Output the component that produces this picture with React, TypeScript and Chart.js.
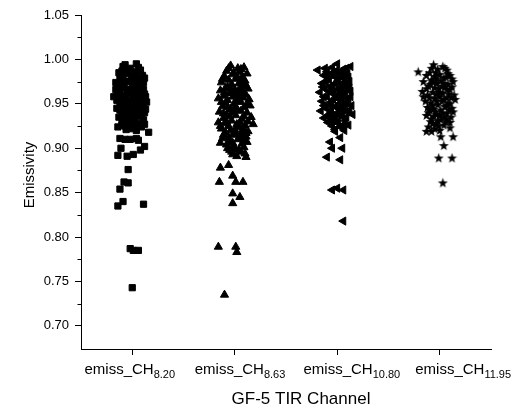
import { useEffect, useRef } from 'react';
import { Chart, registerables } from 'chart.js';

Chart.register(...registerables);

// ---------- data ----------
const labelPrefix = 'emiss_CH';
const channelLabels = ['8.20', '8.63', '10.80', '11.95'];
const categoryPositions = [1, 2, 3, 4];
const yTicks = [0.7, 0.75, 0.8, 0.85, 0.9, 0.95, 1.0, 1.05];
const yMinorTicks = [0.725, 0.775, 0.825, 0.875, 0.925, 0.975, 1.025];
const xTitle = 'GF-5 TIR Channel';
const yTitle = 'Emissivity';

// [jitter offset from category, emissivity]
const emissCH820: [number, number][] = [
  [-0.07, 0.994], [0.04, 0.995], [-0.02, 0.99], [0.08, 0.988], [-0.13, 0.985], [-0.04, 0.984], [0.02, 0.986],
  [0.1, 0.982], [-0.09, 0.98], [0.05, 0.979], [-0.01, 0.977], [-0.16, 0.974], [0.11, 0.974], [-0.06, 0.975],
  [0.07, 0.972], [0.0, 0.97], [-0.11, 0.968], [0.03, 0.967], [0.09, 0.965], [-0.05, 0.964], [-0.14, 0.962],
  [0.12, 0.961], [0.01, 0.96], [-0.18, 0.958], [0.13, 0.958], [-0.08, 0.957], [0.06, 0.955], [-0.02, 0.953],
  [-0.12, 0.951], [0.1, 0.95], [0.03, 0.948], [-0.06, 0.947], [-0.15, 0.945], [0.08, 0.944], [0.0, 0.943],
  [-0.1, 0.941], [0.12, 0.94], [-0.03, 0.938], [0.05, 0.936], [-0.13, 0.935], [-0.07, 0.933], [0.11, 0.932],
  [0.02, 0.931], [-0.04, 0.929], [0.07, 0.928], [-0.1, 0.926], [0.0, 0.925], [-0.14, 0.924], [0.09, 0.924],
  [-0.02, 0.922], [0.16, 0.918], [-0.06, 0.921], [0.04, 0.92],
  [-0.09, 0.992], [0.01, 0.981], [-0.03, 0.962], [0.05, 0.963], [-0.08, 0.969], [0.07, 0.978], [-0.05, 0.952],
  [0.02, 0.941], [-0.11, 0.956], [0.09, 0.953], [-0.01, 0.934], [0.04, 0.975], [-0.12, 0.978], [0.06, 0.946],
  [-0.07, 0.939],
  [-0.1, 0.987], [0.06, 0.991], [-0.05, 0.988], [0.12, 0.979], [-0.14, 0.971], [0.03, 0.983], [-0.08, 0.974],
  [0.09, 0.97], [-0.03, 0.966], [0.11, 0.966], [-0.12, 0.963], [0.04, 0.958], [-0.06, 0.959], [0.08, 0.961],
  [-0.15, 0.954], [0.0, 0.95], [0.11, 0.946], [-0.09, 0.948], [0.05, 0.941], [-0.12, 0.943], [0.09, 0.937],
  [-0.05, 0.935], [0.01, 0.938], [-0.1, 0.93], [0.05, 0.927], [0.12, 0.927], [-0.07, 0.925], [-0.01, 0.928],
  [0.13, 0.944], [-0.16, 0.966], [0.14, 0.952], [-0.02, 0.945], [0.07, 0.965], [-0.11, 0.984], [0.01, 0.956],
  [-0.12, 0.911], [-0.07, 0.91], [-0.02, 0.91], [0.04, 0.911], [0.06, 0.909], [-0.11, 0.9], [-0.14, 0.892],
  [-0.05, 0.891], [0.01, 0.893], [0.08, 0.898], [0.12, 0.902], [-0.04, 0.876], [-0.08, 0.862], [-0.04, 0.861],
  [-0.12, 0.854], [-0.09, 0.84], [-0.14, 0.835], [0.11, 0.837], [-0.02, 0.787], [0.01, 0.785], [0.06, 0.785],
  [0.0, 0.743],
];

const emissCH863: [number, number][] = [
  [-0.04, 0.993], [0.09, 0.991], [0.03, 0.99], [-0.08, 0.987], [0.05, 0.986], [0.12, 0.984], [-0.02, 0.983],
  [-0.1, 0.981], [0.07, 0.98], [0.01, 0.978], [-0.06, 0.977], [0.1, 0.976], [-0.13, 0.974], [0.04, 0.973],
  [-0.03, 0.972], [0.08, 0.97], [-0.09, 0.968], [0.13, 0.967], [0.0, 0.966], [-0.14, 0.965], [0.06, 0.964],
  [-0.05, 0.962], [0.11, 0.96], [-0.11, 0.959], [0.02, 0.958], [-0.16, 0.956], [0.14, 0.955], [-0.07, 0.954],
  [0.06, 0.952], [-0.01, 0.95], [0.15, 0.948], [-0.12, 0.947], [0.09, 0.946], [-0.04, 0.944], [0.03, 0.943],
  [-0.15, 0.941], [0.12, 0.94], [-0.08, 0.938], [0.01, 0.937], [0.16, 0.935], [-0.11, 0.934], [0.07, 0.933],
  [-0.03, 0.931], [-0.16, 0.929], [0.18, 0.927], [0.1, 0.926], [-0.06, 0.925], [0.04, 0.924], [-0.13, 0.922],
  [0.0, 0.921], [0.13, 0.919], [-0.09, 0.918], [0.06, 0.916], [-0.02, 0.915], [0.11, 0.913], [-0.12, 0.911],
  [0.03, 0.91], [-0.05, 0.908], [0.12, 0.907], [-0.14, 0.906], [0.07, 0.905], [-0.01, 0.903], [0.09, 0.901],
  [-0.07, 0.9], [0.04, 0.898], [-0.03, 0.896], [0.1, 0.894], [-0.02, 0.893], [0.11, 0.89], [0.02, 0.891],
  [-0.01, 0.985], [0.06, 0.975], [-0.07, 0.969], [0.03, 0.962], [0.08, 0.957], [-0.09, 0.951], [0.0, 0.945],
  [-0.05, 0.936], [0.05, 0.929], [-0.1, 0.928], [0.01, 0.917], [-0.06, 0.912], [0.08, 0.92], [-0.03, 0.963],
  [0.02, 0.953],
  [-0.06, 0.99], [0.06, 0.989], [-0.12, 0.978], [0.02, 0.981], [0.11, 0.971], [-0.04, 0.967], [0.05, 0.968],
  [-0.1, 0.963], [0.09, 0.962], [-0.13, 0.952], [0.04, 0.956], [-0.02, 0.958], [0.12, 0.95], [-0.07, 0.946],
  [0.06, 0.942], [-0.11, 0.939], [0.09, 0.936], [-0.02, 0.94], [0.13, 0.93], [-0.08, 0.93], [0.02, 0.927],
  [-0.14, 0.925], [0.08, 0.923], [-0.04, 0.92], [0.11, 0.917], [-0.11, 0.915], [0.05, 0.912], [-0.02, 0.906],
  [0.09, 0.909], [-0.08, 0.904], [0.06, 0.896], [-0.05, 0.898], [0.0, 0.899],
  [-0.14, 0.878], [-0.06, 0.881], [-0.15, 0.862], [-0.02, 0.869], [0.01, 0.862], [0.08, 0.862], [-0.02, 0.849],
  [0.05, 0.845], [-0.02, 0.838], [-0.16, 0.789], [0.01, 0.789], [0.02, 0.783], [-0.1, 0.735],
];

const emissCH1080: [number, number][] = [
  [-0.19, 0.988], [0.0, 0.995], [0.13, 0.992], [-0.05, 0.991], [0.06, 0.989], [-0.1, 0.986], [0.02, 0.985],
  [0.1, 0.984], [-0.13, 0.982], [-0.03, 0.981], [0.07, 0.979], [-0.08, 0.977], [0.12, 0.975], [0.01, 0.976],
  [-0.15, 0.973], [0.04, 0.972], [-0.06, 0.97], [0.09, 0.969], [-0.12, 0.967], [0.0, 0.966], [0.13, 0.964],
  [-0.17, 0.963], [-0.04, 0.962], [0.06, 0.96], [-0.1, 0.958], [0.11, 0.956], [0.02, 0.955], [-0.15, 0.953],
  [-0.06, 0.952], [0.08, 0.95], [0.14, 0.948], [-0.02, 0.947], [-0.11, 0.945], [0.05, 0.944], [-0.16, 0.942],
  [0.1, 0.941], [0.0, 0.94], [-0.08, 0.938], [0.15, 0.938], [0.04, 0.936], [-0.13, 0.934], [-0.03, 0.933],
  [0.08, 0.931], [-0.09, 0.929], [0.01, 0.928], [0.11, 0.926], [-0.05, 0.925], [0.06, 0.924], [-0.02, 0.921],
  [0.07, 0.92],
  [-0.01, 0.987], [0.04, 0.98], [-0.07, 0.983], [0.05, 0.965], [-0.05, 0.968], [0.02, 0.961], [-0.08, 0.949],
  [0.03, 0.951], [0.09, 0.935], [-0.06, 0.943], [0.0, 0.93], [0.1, 0.972],
  [-0.12, 0.99], [0.09, 0.99], [-0.03, 0.986], [0.05, 0.984], [-0.09, 0.98], [0.11, 0.98], [0.0, 0.979],
  [-0.11, 0.975], [0.07, 0.974], [-0.02, 0.973], [-0.14, 0.969], [0.12, 0.968], [0.03, 0.968], [-0.08, 0.964],
  [0.08, 0.963], [-0.01, 0.959], [-0.13, 0.958], [0.13, 0.958], [0.05, 0.956], [-0.04, 0.955], [0.1, 0.952],
  [-0.13, 0.948], [0.01, 0.945], [0.07, 0.946], [-0.06, 0.94], [0.12, 0.943], [-0.1, 0.936], [0.05, 0.939],
  [-0.02, 0.936], [0.07, 0.927], [-0.06, 0.931], [0.03, 0.924],
  [-0.02, 0.919], [0.06, 0.924], [-0.07, 0.907], [0.03, 0.912], [-0.05, 0.9], [0.05, 0.9], [-0.1, 0.89],
  [0.03, 0.887], [-0.05, 0.853], [0.0, 0.855], [0.06, 0.853], [0.06, 0.818],
];

const emissCH1195: [number, number][] = [
  [-0.06, 0.994], [0.03, 0.992], [-0.21, 0.986], [-0.02, 0.989], [0.07, 0.988], [-0.1, 0.985], [0.0, 0.983],
  [0.1, 0.982], [-0.05, 0.981], [0.04, 0.979], [-0.16, 0.975], [-0.08, 0.977], [0.13, 0.975], [0.01, 0.976],
  [-0.03, 0.973], [0.08, 0.972], [-0.11, 0.97], [0.05, 0.969], [-0.01, 0.967], [-0.17, 0.964], [0.1, 0.966],
  [-0.07, 0.963], [0.03, 0.962], [0.14, 0.96], [-0.12, 0.96], [0.0, 0.958], [0.07, 0.957], [-0.05, 0.956],
  [0.15, 0.955], [-0.14, 0.953], [0.02, 0.953], [-0.09, 0.951], [0.1, 0.95], [-0.02, 0.949], [0.05, 0.947],
  [-0.12, 0.946], [0.12, 0.945], [-0.06, 0.944], [0.01, 0.943], [-0.11, 0.94], [0.13, 0.941], [0.07, 0.939],
  [-0.03, 0.938], [0.04, 0.935], [-0.08, 0.933], [0.01, 0.932], [-0.09, 0.93], [0.06, 0.93], [0.1, 0.929],
  [-0.04, 0.927],
  [-0.04, 0.985], [0.06, 0.98], [-0.09, 0.972], [0.09, 0.961], [-0.03, 0.961], [0.02, 0.97], [-0.07, 0.948],
  [0.08, 0.951], [0.0, 0.937], [-0.01, 0.925], [-0.05, 0.922], [-0.11, 0.924],
  [-0.08, 0.99], [0.05, 0.99], [-0.13, 0.982], [0.08, 0.984], [-0.03, 0.978], [0.12, 0.978], [-0.07, 0.975],
  [0.04, 0.973], [-0.13, 0.967], [0.07, 0.966], [-0.05, 0.968], [0.12, 0.969], [0.0, 0.963], [-0.1, 0.957],
  [0.11, 0.957], [0.04, 0.955], [-0.03, 0.953], [-0.16, 0.958], [0.07, 0.948], [-0.1, 0.943], [0.09, 0.943],
  [-0.04, 0.941], [0.03, 0.94], [-0.13, 0.937], [0.11, 0.935], [-0.06, 0.936], [0.07, 0.933], [-0.02, 0.931],
  [0.04, 0.926], [0.1, 0.923], [-0.07, 0.928], [0.0, 0.92],
  [-0.13, 0.919], [-0.08, 0.919], [0.01, 0.913], [0.13, 0.913], [0.04, 0.903], [-0.01, 0.889],
  [0.12, 0.889], [0.03, 0.861],
];

const seriesList = [emissCH820, emissCH863, emissCH1080, emissCH1195];

// ---------- styling ----------
const FONT = '"Liberation Sans", Arial, sans-serif';
const labelShift = [-2.5, 5.3, 14.6, 23.4];

function makeStar(): HTMLCanvasElement {
  const c = document.createElement('canvas');
  c.width = 11;
  c.height = 11;
  const g = c.getContext('2d')!;
  const cx = 5.5, cy = 5.8, ro = 5.2, ri = 2.1;
  g.beginPath();
  for (let k = 0; k < 10; k++) {
    const r = k % 2 === 0 ? ro : ri;
    const a = -Math.PI / 2 + (k * Math.PI) / 5;
    const px = cx + r * Math.cos(a);
    const py = cy + r * Math.sin(a);
    if (k === 0) g.moveTo(px, py);
    else g.lineTo(px, py);
  }
  g.closePath();
  g.fillStyle = '#000';
  g.fill();
  return c;
}

const annotatePlugin = {
  id: 'annotate',
  afterDraw(chart: any) {
    const ctx: CanvasRenderingContext2D = chart.ctx;
    const xs = chart.scales.x;
    const ys = chart.scales.y;
    const area = chart.chartArea;
    ctx.save();
    ctx.strokeStyle = '#000';
    ctx.lineWidth = 1;
    for (const v of yMinorTicks) {
      const py = Math.round(ys.getPixelForValue(v)) + 0.5;
      ctx.beginPath();
      ctx.moveTo(area.left, py);
      ctx.lineTo(area.left - 3.5, py);
      ctx.stroke();
    }
    ctx.fillStyle = '#000';
    ctx.textBaseline = 'alphabetic';
    ctx.textAlign = 'left';
    const mainFont = `15px ${FONT}`;
    const subFont = `11px ${FONT}`;
    channelLabels.forEach((sub, i) => {
      const cx = xs.getPixelForValue(categoryPositions[i]) + labelShift[i];
      ctx.font = mainFont;
      const w1 = ctx.measureText(labelPrefix).width;
      ctx.font = subFont;
      const w2 = ctx.measureText(sub).width;
      const left = cx - (w1 + w2) / 2;
      const base = area.bottom + 25;
      ctx.font = mainFont;
      ctx.fillText(labelPrefix, left, base);
      ctx.font = subFont;
      ctx.fillText(sub, left + w1, base + 3.5);
    });
    ctx.font = `17px ${FONT}`;
    ctx.textAlign = 'center';
    ctx.fillText(xTitle, (area.left + area.right) / 2 + 15, area.bottom + 55);
    ctx.translate(34, (area.top + area.bottom) / 2 - 7);
    ctx.rotate(-Math.PI / 2);
    ctx.font = `15px ${FONT}`;
    ctx.fillText(yTitle, 0, 0);
    ctx.restore();
  },
};

export default function App() {
  const ref = useRef<HTMLCanvasElement | null>(null);
  useEffect(() => {
    if (!ref.current) return;
    const star = makeStar();
    const styles: any[] = [
      { pointStyle: 'rect', pointRadius: 4.4, rotation: 0 },
      { pointStyle: 'triangle', pointRadius: 4.7, rotation: 0 },
      { pointStyle: 'triangle', pointRadius: 4.7, rotation: 270 },
      { pointStyle: star, pointRadius: 5, rotation: 0 },
    ];
    const datasets = seriesList.map((pts, i) => ({
      label: labelPrefix + channelLabels[i],
      data: pts.map(([dx, y]) => ({ x: categoryPositions[i] + dx, y })),
      backgroundColor: '#000',
      borderColor: '#000',
      borderWidth: 1,
      showLine: false,
      pointStyle: styles[i].pointStyle,
      pointRadius: styles[i].pointRadius,
      pointRotation: styles[i].rotation,
      pointHoverRadius: styles[i].pointRadius,
    }));
    const chart = new Chart(ref.current, {
      type: 'scatter',
      data: { datasets },
      options: {
        responsive: false,
        animation: false,
        events: [],
        layout: { padding: { top: 15, right: 25, left: 0, bottom: 0 } },
        plugins: { legend: { display: false }, tooltip: { enabled: false } },
        scales: {
          x: {
            type: 'linear',
            min: 0.5,
            max: 4.5,
            afterBuildTicks: (s: any) => {
              s.ticks = categoryPositions.map((v) => ({ value: v }));
            },
            afterFit: (s: any) => {
              s.height = 62;
            },
            ticks: { display: false },
            grid: { drawOnChartArea: false, drawTicks: true, tickLength: 6, color: '#000', lineWidth: 1 },
            border: { display: true, color: '#000', width: 1 },
          },
          y: {
            type: 'linear',
            min: 0.674,
            max: 1.05,
            afterBuildTicks: (s: any) => {
              s.ticks = yTicks.map((v) => ({ value: v }));
            },
            afterFit: (s: any) => {
              s.width = 81;
            },
            ticks: {
              padding: 6,
              color: '#000',
              font: { family: FONT, size: 13 },
              callback: (v: any) => Number(v).toFixed(2),
            },
            grid: { drawOnChartArea: false, drawTicks: true, tickLength: 6, color: '#000', lineWidth: 1 },
            border: { display: true, color: '#000', width: 1 },
          },
        },
      },
      plugins: [annotatePlugin],
    } as any);
    return () => chart.destroy();
  }, []);
  return (
    <canvas
      ref={ref}
      width={516}
      height={411}
      style={{ position: 'fixed', left: 0, top: 0, width: 516, height: 411, background: '#fff' }}
    />
  );
}
